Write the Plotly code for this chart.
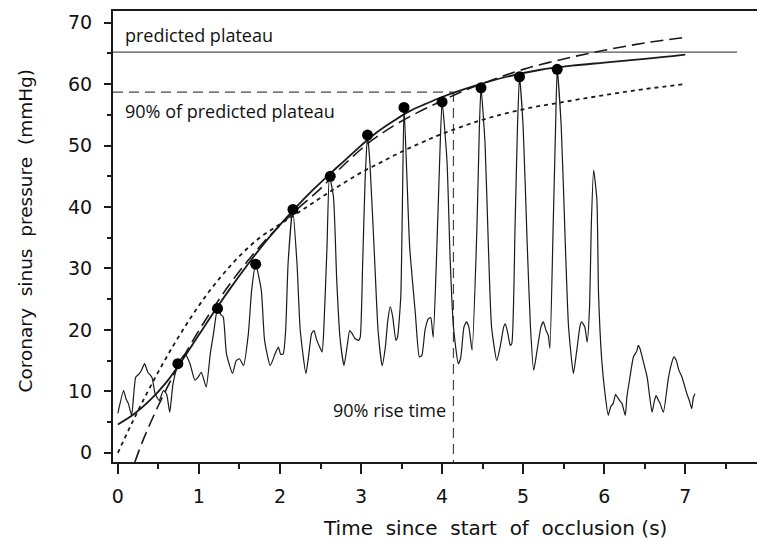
import plotly.graph_objects as go

# ---- data ----
trace_t = [0.00,0.07,0.10,0.13,0.17,0.22,0.26,0.29,0.33,0.37,0.42,0.46,0.51,0.56,0.60,0.64,0.68,0.74,0.79,0.83,
           0.89,0.95,0.99,1.03,1.09,1.14,1.18,1.23,1.27,1.30,1.34,1.415,1.46,1.50,1.55,1.61,1.65,1.70,1.77,1.81,
           1.88,1.94,1.98,2.01,2.04,2.07,2.10,2.157,2.21,2.25,2.32,2.36,2.39,2.42,2.45,2.49,2.52,2.54,2.58,2.61,
           2.66,2.70,2.74,2.79,2.83,2.86,2.89,2.925,2.97,2.99,3.02,3.05,3.08,3.11,3.17,3.21,3.26,3.30,3.33,3.36,
           3.39,3.43,3.45,3.49,3.51,3.53,3.56,3.60,3.67,3.72,3.75,3.79,3.83,3.86,3.89,3.93,3.97,4.00,4.06,4.10,
           4.14,4.20,4.23,4.27,4.30,4.33,4.37,4.43,4.46,4.48,4.53,4.57,4.61,4.675,4.72,4.76,4.78,4.81,4.84,4.86,
           4.90,4.93,4.955,5.00,5.05,5.09,5.13,5.17,5.22,5.25,5.28,5.31,5.33,5.37,5.40,5.42,5.47,5.52,5.56,5.62,
           5.66,5.70,5.72,5.76,5.79,5.82,5.84,5.87,5.91,5.93,5.97,6.01,6.05,6.08,6.11,6.14,6.16,6.19,6.22,6.26,
           6.28,6.32,6.36,6.40,6.42,6.44,6.48,6.53,6.59,6.62,6.64,6.67,6.69,6.73,6.79,6.83,6.86,6.89,6.92,6.96,
           7.02,7.05,7.08,7.10,7.12]
trace_p = [6.4,10.1,8.8,8.0,6.1,12.3,12.8,13.4,14.5,13.1,12.3,9.6,8.5,10.1,9.6,6.6,11.2,14.5,15.5,16.1,
           14.5,11.8,12.3,13.1,10.7,16.1,19.4,23.5,22.5,22.1,16.1,12.9,15.0,15.3,14.2,19.4,26.4,30.7,26.4,18.3,
           14.2,16.1,17.2,16.0,16.1,19.9,30.8,39.6,30.8,19.9,12.9,16.5,19.4,19.9,18.5,17.2,16.4,19.9,33.5,45.0,
           41.6,28.1,18.8,14.2,17.5,19.9,19.4,18.6,18.3,18.8,30.8,44.3,51.7,47.1,30.8,19.9,14.2,17.2,21.5,23.8,
           22.2,18.3,18.8,25.3,40.0,56.2,47.0,33.5,22.7,15.6,15.8,20.0,21.8,22.0,18.8,31.3,47.6,57.1,47.6,31.3,
           20.5,14.5,15.5,20.5,21.3,20.5,16.7,36.7,53.0,59.4,50.3,34.0,20.5,15.0,17.5,20.5,21.0,19.5,17.5,17.8,
           36.7,53.0,61.2,53.0,34.0,20.5,13.4,16.5,20.5,21.3,20.0,19.1,17.0,36.7,53.0,62.4,53.0,34.0,20.5,12.9,
           16.5,20.5,21.3,20.5,18.0,24.0,36.7,46.0,41.1,25.9,15.0,9.6,6.1,7.5,8.0,9.5,9.1,8.5,8.0,6.1,
           9.1,12.5,15.6,16.5,17.5,17.0,15.0,12.3,6.6,8.5,9.3,8.5,8.0,6.6,12.0,14.5,15.6,15.0,13.5,12.3,
           9.6,8.5,7.2,9.0,9.6]

peak_t = [0.74, 1.23, 1.70, 2.16, 2.62, 3.08, 3.53, 4.00, 4.48, 4.955, 5.42]
peak_p = [14.5, 23.5, 30.7, 39.6, 45.0, 51.7, 56.2, 57.1, 59.4, 61.2, 62.4]

fit_solid_t = [0.0,0.2,0.4,0.6,0.8,1.0,1.2,1.4,1.6,1.8,2.0,2.2,2.4,2.6,2.8,3.0,3.2,3.4,3.6,3.8,4.0,4.4,4.8,5.2,5.6,6.0,6.5,7.0]
fit_solid_p = [4.6,6.3,8.6,11.5,15.2,19.2,23.2,27.0,30.6,34.0,37.1,40.0,42.7,45.2,47.6,50.0,52.2,54.0,55.6,56.8,57.9,59.7,61.2,62.3,63.0,63.5,64.1,64.8]

fit_long_t = [0.21,0.3,0.4,0.5,0.6,0.7,0.8,1.0,1.2,1.4,1.6,1.8,2.0,2.2,2.5,2.8,3.1,3.4,3.7,4.0,4.3,4.6,5.0,5.5,6.0,6.5,7.0]
fit_long_p = [-1.5,1.7,4.8,7.7,10.4,13.0,15.4,19.9,24.0,27.8,31.2,34.3,37.0,39.5,43.0,47.0,50.5,53.2,55.4,57.3,59.1,60.6,62.4,64.1,65.5,66.7,67.6]

fit_short_t = [0.0,0.15,0.3,0.5,0.7,0.9,1.1,1.3,1.5,1.75,2.0,2.25,2.5,2.75,3.0,3.25,3.5,3.75,4.0,4.5,5.0,5.5,6.0,6.5,7.0]
fit_short_p = [0.0,4.2,8.2,13.2,17.8,22.0,25.8,29.1,32.0,35.0,37.2,39.3,41.5,43.6,45.6,47.3,49.0,50.5,51.9,54.2,55.9,57.1,58.2,59.2,60.0]

plateau = 65.2
plateau_x = [-0.06, 7.64]
ninety = 58.7
rise_time = 4.14
x_start = -0.06
x_end = 7.885
y_bottom = -1.5
y_top = 71.9

x_ticks = [0, 1, 2, 3, 4, 5, 6, 7, 8]
y_ticks = [0, 10, 20, 30, 40, 50, 60, 70]

ink = "#1a1a1a"
fig = go.Figure()

# predicted plateau
fig.add_trace(go.Scatter(x=plateau_x, y=[plateau, plateau], mode="lines",
                         line=dict(color="#555", width=1.2), showlegend=False))
# 90% of plateau & rise time
fig.add_trace(go.Scatter(x=[x_start, rise_time], y=[ninety, ninety], mode="lines",
                         line=dict(color="#444", width=1.2, dash="10px,6px"), showlegend=False))
fig.add_trace(go.Scatter(x=[rise_time, rise_time], y=[ninety, y_bottom], mode="lines",
                         line=dict(color="#444", width=1.2, dash="10px,6px"), showlegend=False))

# pressure trace
fig.add_trace(go.Scatter(x=trace_t, y=trace_p, mode="lines", line_shape="spline",
                         line=dict(color=ink, width=1.2, smoothing=0.5), showlegend=False))

# fits
fig.add_trace(go.Scatter(x=fit_solid_t, y=fit_solid_p, mode="lines", line_shape="spline",
                         line=dict(color=ink, width=1.8), showlegend=False))
fig.add_trace(go.Scatter(x=fit_long_t, y=fit_long_p, mode="lines", line_shape="spline",
                         line=dict(color=ink, width=1.6, dash="13px,6px"), showlegend=False))
fig.add_trace(go.Scatter(x=fit_short_t, y=fit_short_p, mode="lines", line_shape="spline",
                         line=dict(color=ink, width=1.8, dash="4px,4px"), showlegend=False))

# peaks
fig.add_trace(go.Scatter(x=peak_t, y=peak_p, mode="markers",
                         marker=dict(color="#000", size=11), showlegend=False))

ann_font = dict(family="Open Sans", size=18, color="#111")
fig.add_annotation(x=0.06, y=68.0, text="predicted plateau", showarrow=False,
                   xanchor="left", yanchor="middle", font=ann_font)
fig.add_annotation(x=0.06, y=55.6, text="90% of predicted plateau", showarrow=False,
                   xanchor="left", yanchor="middle", font=ann_font)
fig.add_annotation(x=2.63, y=6.9, text="90% rise time", showarrow=False,
                   xanchor="left", yanchor="middle", font=ann_font)

sp = "\u00a0"
title_font = dict(family="DejaVu Sans", size=20, color="#111")
fig.add_annotation(x=4.65, xref="x", y=0, yref="paper", yshift=-66,
                   text=f"Time{sp} since{sp} start{sp} of{sp} occlusion{sp}(s)",
                   showarrow=False, xanchor="center", yanchor="middle", font=title_font)
fig.add_annotation(x=0, xref="paper", xshift=-88, y=0.5, yref="paper", yshift=6,
                   text=f"Coronary{sp} sinus{sp} pressure{sp} (mmHg)", textangle=-90,
                   showarrow=False, xanchor="center", yanchor="middle",
                   font=dict(family="DejaVu Sans", size=18.5, color="#111"))

axis_font = dict(family="DejaVu Sans", size=19, color="#111")
fig.update_layout(
    width=749, height=531,
    margin=dict(l=105, r=0, t=3, b=77),
    paper_bgcolor="white", plot_bgcolor="white",
    xaxis=dict(range=[x_start, x_end], tickvals=x_ticks, ticks="outside", ticklen=10, tickwidth=1.5,
               tickcolor=ink, showline=True, linecolor=ink, linewidth=2, mirror=True,
               showgrid=False, zeroline=False, tickfont=axis_font, ticklabelstandoff=6,
               minor=dict(dtick=0.5, tick0=0, ticks="outside", ticklen=5, tickcolor=ink, showgrid=False)),
    yaxis=dict(range=[y_bottom, y_top], tickvals=y_ticks, ticks="outside", ticklen=7, tickwidth=1.5,
               tickcolor=ink, showline=True, linecolor=ink, linewidth=2,
               showgrid=False, zeroline=False, tickfont=axis_font, ticklabelstandoff=8,
               minor=dict(dtick=5, tick0=0, ticks="outside", ticklen=4, tickcolor=ink, showgrid=False)),
)

fig.write_html("out.html")
